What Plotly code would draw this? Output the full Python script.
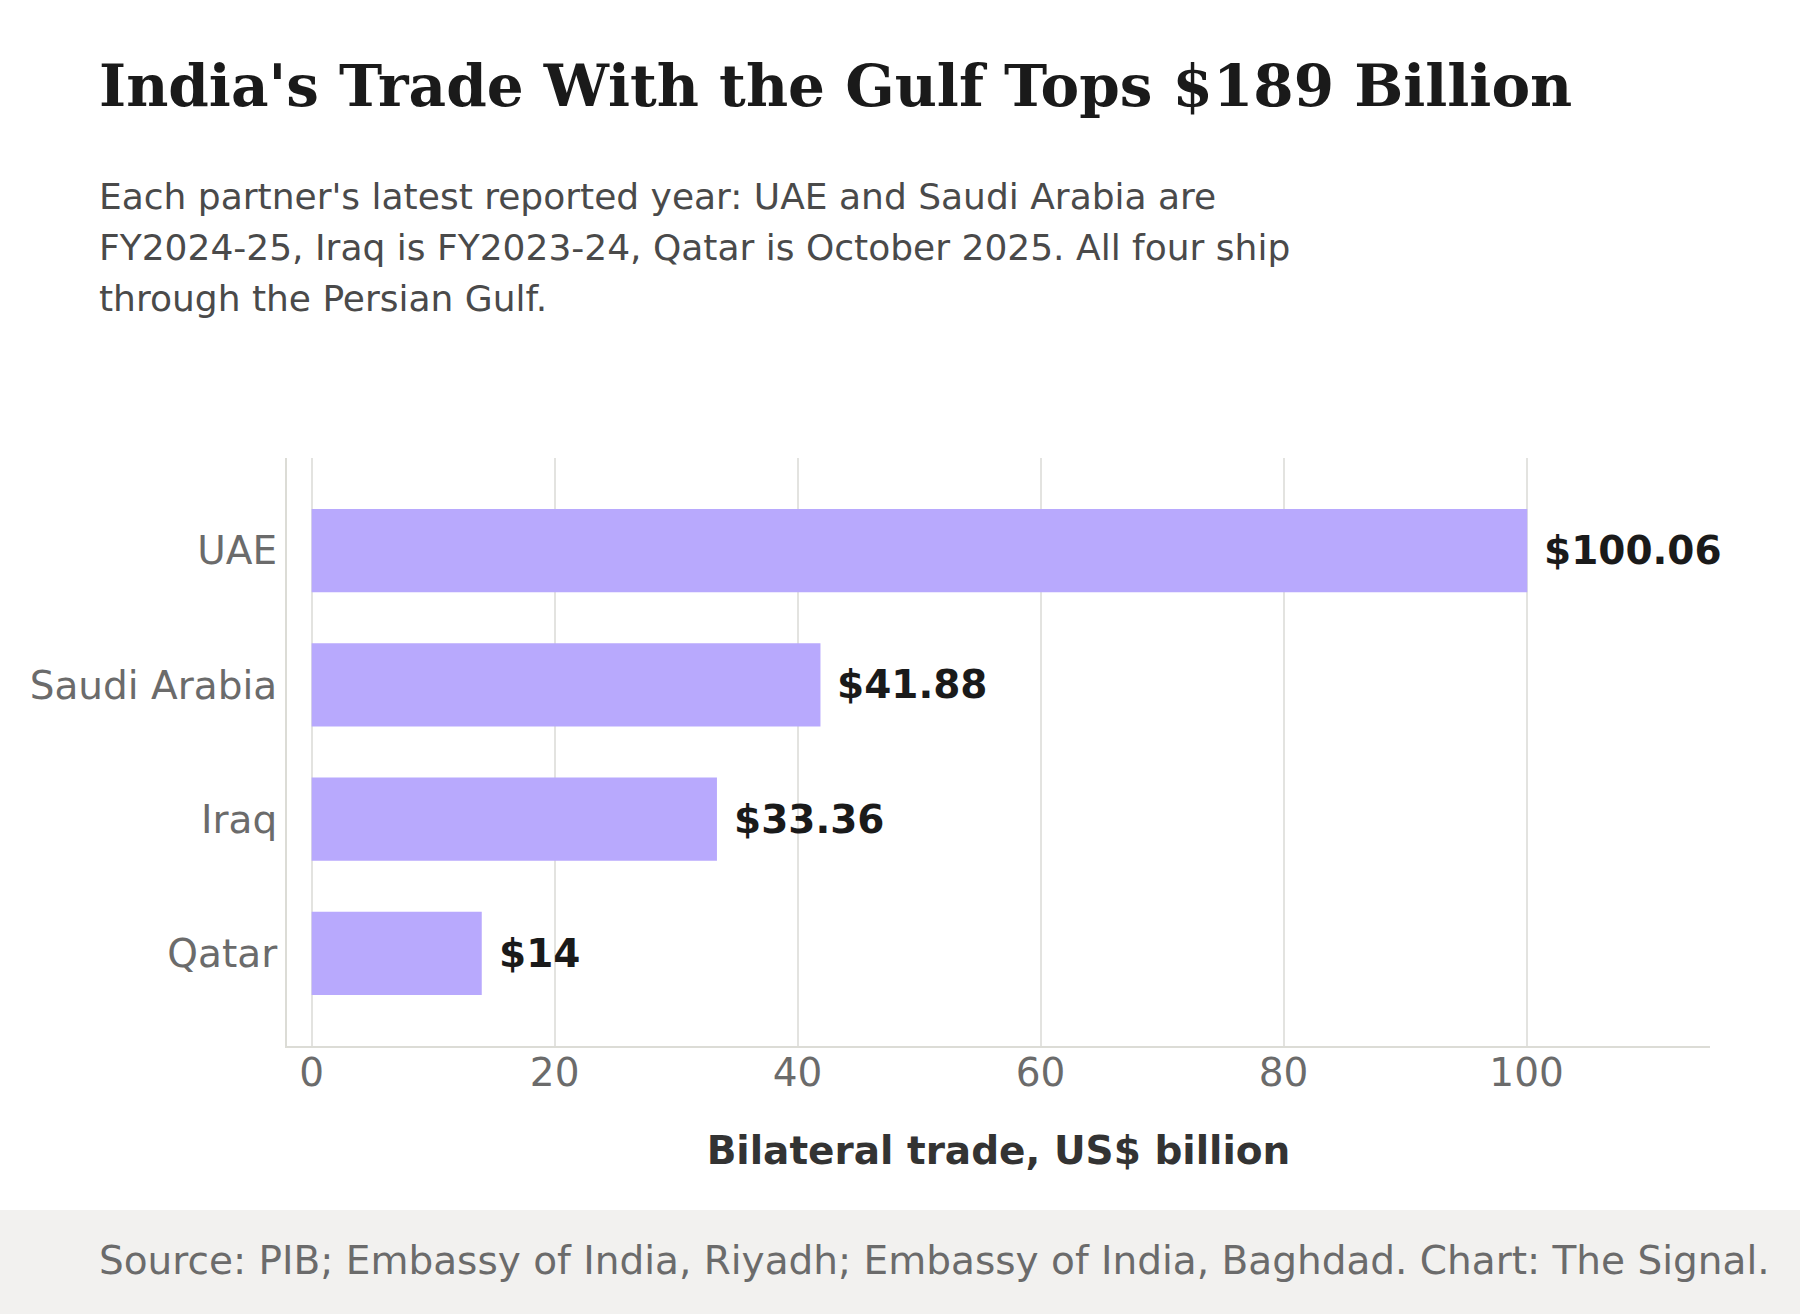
import plotly.graph_objects as go

countries = ["UAE", "Saudi Arabia", "Iraq", "Qatar"]
trade = [100.06, 41.88, 33.36, 14]
labels = ["$100.06", "$41.88", "$33.36", "$14"]
x_ticks = [0, 20, 40, 60, 80, 100]

W, H = 1800, 1314
L, R, T, B = 287, 1710, 458, 1046

def px(x):
    return (x - L) / (R - L)

def py(y):
    return (B - y) / (B - T)

fig = go.Figure()
fig.add_trace(go.Bar(
    y=countries, x=trade, orientation="h",
    marker=dict(color="#b8a9fd", line=dict(width=0)),
    width=0.62, hoverinfo="skip",
))

for c, v, t in zip(countries, trade, labels):
    fig.add_annotation(x=v, y=c, xref="x", yref="y", text=t, showarrow=False,
                       xanchor="left", yanchor="middle", xshift=15, yshift=0,
                       font=dict(family="DejaVu Sans", size=39, color="#1a1a1a", weight="bold"))

sans = "DejaVu Sans"
fig.add_annotation(x=px(97), y=py(86), xref="paper", yref="paper", text="<b>India's Trade With the Gulf Tops $189 Billion</b>",
                   showarrow=False, xanchor="left", yanchor="middle",
                   font=dict(family="DejaVu Serif", size=58, color="#1a1a1a"))
sub = ["Each partner's latest reported year: UAE and Saudi Arabia are",
       "FY2024-25, Iraq is FY2023-24, Qatar is October 2025. All four ship",
       "through the Persian Gulf."]
for i, s in enumerate(sub):
    fig.add_annotation(x=px(97), y=py(197 + 50.8 * i), xref="paper", yref="paper", text=s,
                       showarrow=False, xanchor="left", yanchor="middle",
                       font=dict(family=sans, size=36, color="#4a4a4a"))

fig.add_shape(type="rect", xref="paper", yref="paper", x0=px(0), x1=px(W), y0=py(1210), y1=py(H + 5),
              fillcolor="#f2f1ef", line=dict(width=0), layer="below")
fig.add_annotation(x=px(97), y=py(1260), xref="paper", yref="paper",
                   text="Source: PIB; Embassy of India, Riyadh; Embassy of India, Baghdad. Chart: The Signal.",
                   showarrow=False, xanchor="left", yanchor="middle",
                   font=dict(family=sans, size=39, color="#6b6b6b"))

fig.update_layout(
    width=W, height=H, margin=dict(l=L, r=W - R, t=T, b=H - B),
    paper_bgcolor="white", plot_bgcolor="white", showlegend=False,
    font=dict(family=sans),
    xaxis=dict(range=[-2.03, 115.1], tickvals=x_ticks, ticktext=[str(v) for v in x_ticks],
               showgrid=True, gridcolor="#e3e3e0", gridwidth=1.5, zeroline=False,
               showline=True, linecolor="#dcdcd6", linewidth=2,
               tickfont=dict(size=39, color="#6b6b6b"), ticks="", ticklabelstandoff=-9,
               title=dict(text="<b>Bilateral trade, US$ billion</b>", font=dict(size=39, color="#333333"), standoff=43)),
    yaxis=dict(categoryorder="array", categoryarray=countries, range=[3.69, -0.69],
               showgrid=False, zeroline=False, showline=True, linecolor="#dcdcd6", linewidth=2,
               tickfont=dict(size=39, color="#6b6b6b"), ticks="", ticklabelstandoff=0),
)

fig.write_html("out.html")
